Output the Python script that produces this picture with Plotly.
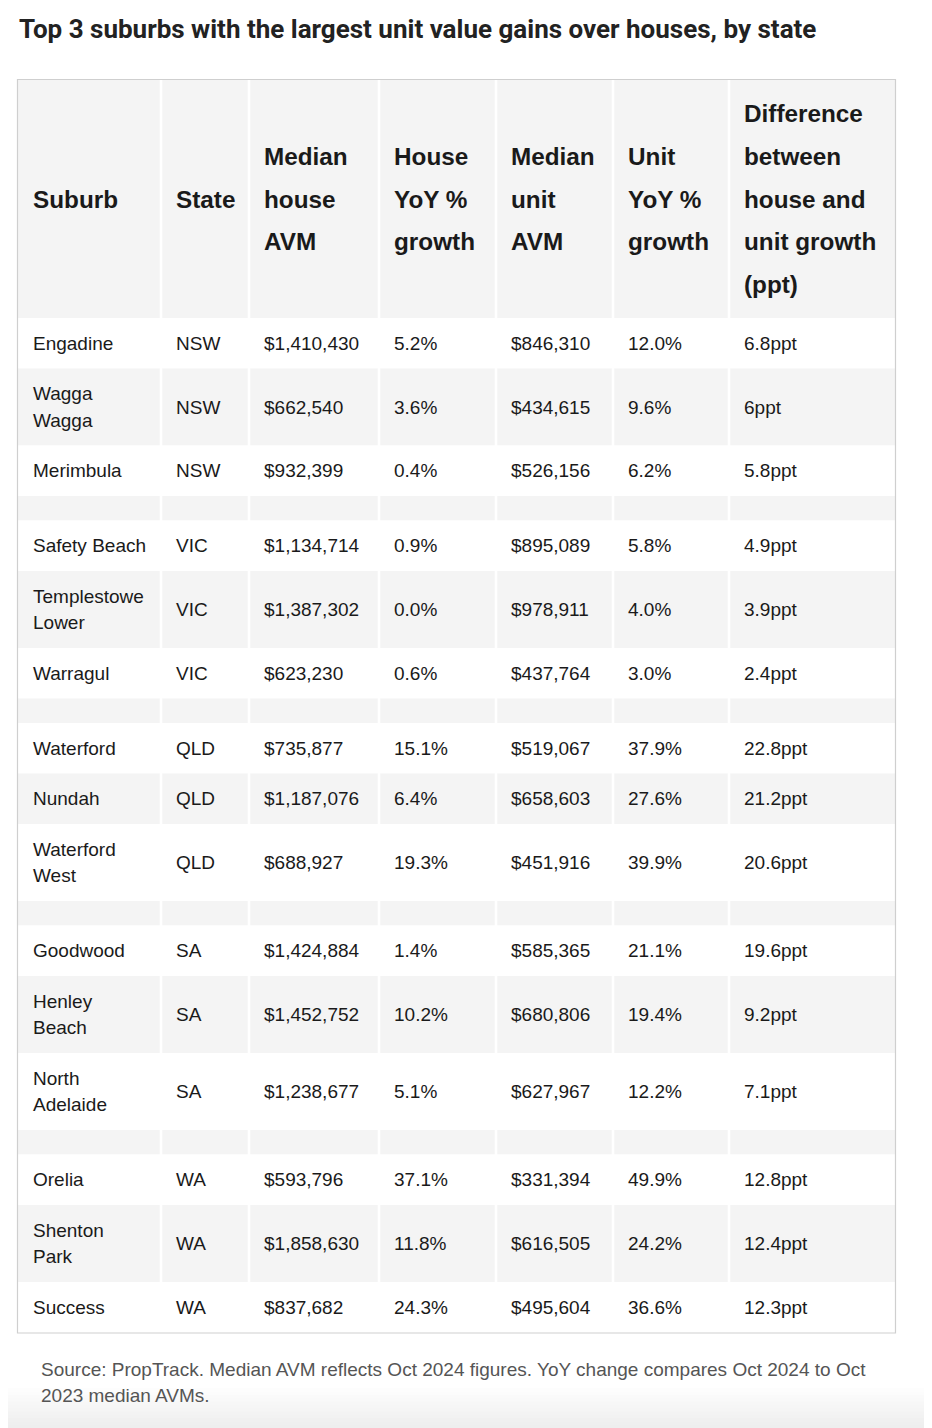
import plotly.graph_objects as go

# ---------------- data ----------------
title = "Top 3 suburbs with the largest unit value gains over houses, by state"
headers = ["Suburb", "State", "Median<br>house<br>AVM", "House<br>YoY %<br>growth",
           "Median<br>unit<br>AVM", "Unit<br>YoY %<br>growth",
           "Difference<br>between<br>house and<br>unit growth<br>(ppt)"]
suburbs = ["Engadine", "Wagga<br>Wagga", "Merimbula",
           "Safety Beach", "Templestowe<br>Lower", "Warragul",
           "Waterford", "Nundah", "Waterford<br>West",
           "Goodwood", "Henley<br>Beach", "North<br>Adelaide",
           "Orelia", "Shenton<br>Park", "Success"]
states = ["NSW", "NSW", "NSW", "VIC", "VIC", "VIC", "QLD", "QLD", "QLD",
          "SA", "SA", "SA", "WA", "WA", "WA"]
house_avm = [1410430, 662540, 932399, 1134714, 1387302, 623230, 735877, 1187076,
             688927, 1424884, 1452752, 1238677, 593796, 1858630, 837682]
house_yoy = [5.2, 3.6, 0.4, 0.9, 0.0, 0.6, 15.1, 6.4, 19.3, 1.4, 10.2, 5.1, 37.1, 11.8, 24.3]
unit_avm = [846310, 434615, 526156, 895089, 978911, 437764, 519067, 658603,
            451916, 585365, 680806, 627967, 331394, 616505, 495604]
unit_yoy = [12.0, 9.6, 6.2, 5.8, 4.0, 3.0, 37.9, 27.6, 39.9, 21.1, 19.4, 12.2, 49.9, 24.2, 36.6]
diff_ppt = [6.8, 6, 5.8, 4.9, 3.9, 2.4, 22.8, 21.2, 20.6, 19.6, 9.2, 7.1, 12.8, 12.4, 12.3]
source_lines = ["Source: PropTrack. Median AVM reflects Oct 2024 figures. YoY change compares Oct 2024 to Oct",
                "2023 median AVMs."]

# ---------------- layout constants ----------------
W, H = 932, 1428
OFF = 8  # page body margin
col_edges = [18, 161, 249, 379, 496, 613, 729, 895]
pad = 12.5
header_top, header_bottom = 80, 318
single_h, double_h, spacer_h = 50.5, 77, 24.5
body_line = 26.5
head_line = 42.75
gray = "#f4f4f4"
txt = "#1a1a1a"
body_font = dict(family="Liberation Sans, Arial, Helvetica, sans-serif", size=19, color=txt)
head_font = dict(family="Liberation Sans, Arial, Helvetica, sans-serif", size=24.3, color=txt)

# build rows: data rows with a spacer row between state groups
rows = []  # (kind, index)
for i, st in enumerate(states):
    if i > 0 and st != states[i - 1]:
        rows.append(("spacer", None))
    rows.append(("data", i))

shapes = []
annotations = []

def add_lines(text, x, yc, spacing, font, bold=False):
    parts = text.split("<br>")
    n = len(parts)
    for k, p in enumerate(parts):
        y = yc + (k - (n - 1) / 2) * spacing
        annotations.append(dict(x=x, y=y, xref="x", yref="y", text=f"<b>{p}</b>" if bold else p,
                                showarrow=False, xanchor="left", yanchor="middle", font=font))

# header
shapes.append(dict(type="rect", x0=col_edges[0], x1=col_edges[-1], y0=header_top, y1=header_bottom,
                   fillcolor=gray, line_width=0, layer="below"))
hc = (header_top + header_bottom) / 2
for c, h in enumerate(headers):
    add_lines(h, col_edges[c] + pad, hc, head_line, head_font, bold=True)

y = header_bottom
for r, (kind, i) in enumerate(rows):
    if kind == "spacer":
        h = spacer_h
    else:
        h = double_h if "<br>" in suburbs[i] else single_h
    fill = "#ffffff" if r % 2 == 0 else gray
    shapes.append(dict(type="rect", x0=col_edges[0], x1=col_edges[-1], y0=y, y1=y + h,
                       fillcolor=fill, line_width=0, layer="below"))
    if kind == "data":
        cells = [suburbs[i], states[i], f"${house_avm[i]:,}", f"{house_yoy[i]:.1f}%",
                 f"${unit_avm[i]:,}", f"{unit_yoy[i]:.1f}%", f"{diff_ppt[i]:g}ppt"]
        yc = y + h / 2
        for c, t in enumerate(cells):
            add_lines(t, col_edges[c] + pad, yc, body_line, body_font)
    y += h
table_bottom = y

# white column separators
for xe in col_edges[1:-1]:
    shapes.append(dict(type="line", x0=xe, x1=xe, y0=header_top, y1=table_bottom,
                       line=dict(color="#ffffff", width=2.5), layer="below"))
# outer border
shapes.append(dict(type="rect", x0=col_edges[0] - 0.5, x1=col_edges[-1] + 0.5,
                   y0=header_top - 0.5, y1=table_bottom + 0.5,
                   line=dict(color="#cfcfcf", width=1.2), fillcolor="rgba(0,0,0,0)", layer="above"))

# bottom fade
nb = 12
for k in range(nb):
    y0 = 1388 + k * (H - 1388) / nb
    v = int(255 - (255 - 238) * (k + 1) / nb)
    shapes.append(dict(type="rect", x0=0, x1=W, y0=y0, y1=y0 + (H - 1388) / nb + 0.5,
                       fillcolor=f"rgb({v},{v},{v})", line_width=0, layer="below"))

# title
annotations.append(dict(x=16.5, y=29, xref="x", yref="y", text=f"<b>{title}</b>", showarrow=False,
                        xanchor="left", yanchor="middle",
                        font=dict(family="Roboto, Liberation Sans Narrow, sans-serif",
                                  size=26, color="#222222")))
# source
for k, s in enumerate(source_lines):
    annotations.append(dict(x=38.5, y=1369 + k * 26, xref="x", yref="y", text=s, showarrow=False,
                            xanchor="left", yanchor="middle",
                            font=dict(family="Liberation Sans, Arial, sans-serif", size=19, color="#555555")))

fig = go.Figure()
fig.add_trace(go.Scatter(x=[OFF, W], y=[OFF, H], mode="markers", marker=dict(opacity=0),
                         hoverinfo="skip", showlegend=False))
fig.update_layout(width=W - OFF, height=H - OFF, margin=dict(l=0, r=0, t=0, b=0),
                  paper_bgcolor="#ffffff", plot_bgcolor="#ffffff",
                  xaxis=dict(range=[OFF, W], visible=False, fixedrange=True),
                  yaxis=dict(range=[H, OFF], visible=False, fixedrange=True),
                  shapes=shapes, annotations=annotations, showlegend=False)
fig.write_html("out.html", config={"displayModeBar": False})
